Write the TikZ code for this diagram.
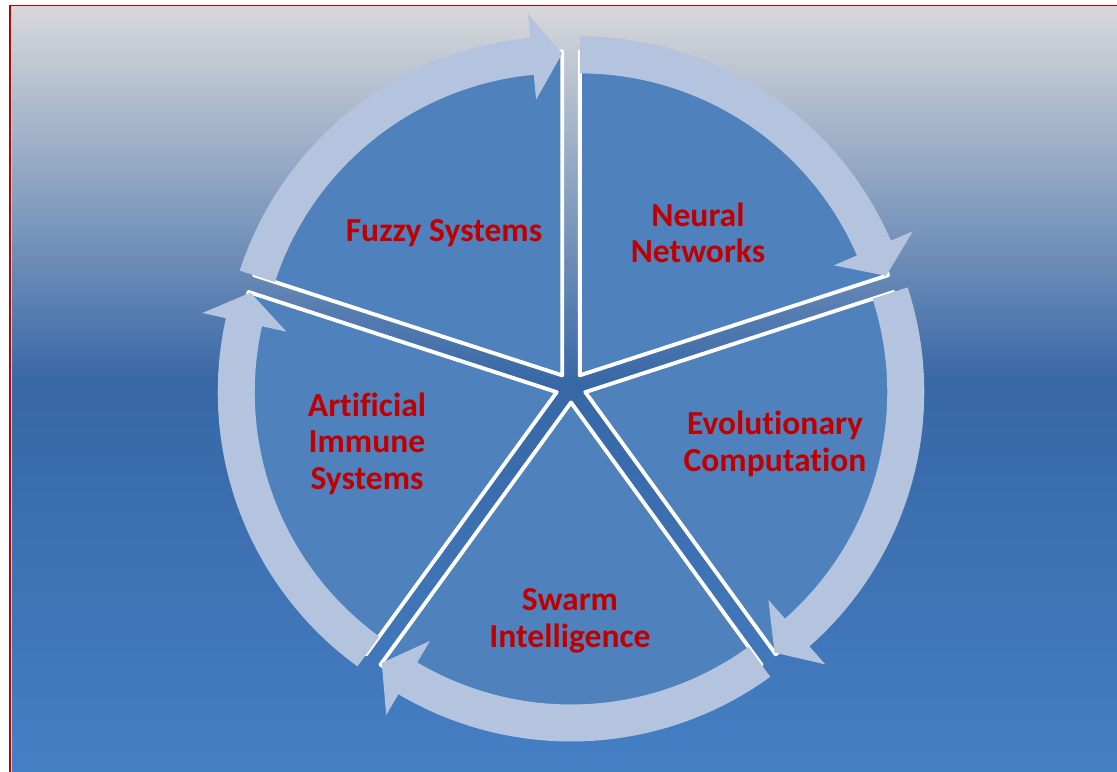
\documentclass[tikz,border=0pt]{standalone}
\usepackage{fontspec}
\setmainfont{Carlito}[RawFeature={-liga;-clig;-dlig}]
\usetikzlibrary{calc}
\definecolor{secblue}{RGB}{79,129,189}
\definecolor{arrowblue}{RGB}{180,196,222}
\definecolor{txtred}{RGB}{192,0,0}
\definecolor{framered}{RGB}{192,0,0}
\definecolor{bgtop}{RGB}{216,216,218}
\definecolor{bgmid}{RGB}{55,103,166}
\definecolor{bgbot}{RGB}{69,127,196}
\definecolor{innerpink}{RGB}{238,205,205}
\pgfdeclareverticalshading{bgshade}{100bp}{color(0bp)=(bgbot); color(25bp)=(bgbot); color(50.26bp)=(bgmid); color(75bp)=(bgtop); color(100bp)=(bgtop)}
\begin{document}
\begin{tikzpicture}[x=0.01cm,y=0.01cm,
  sector/.style={fill=secblue, draw=white, line width=1.1pt, line join=round},
  circarrow/.style={fill=arrowblue},
  seglabel/.style={text=txtred, font=\bfseries\fontsize{9.55}{10.4}\selectfont, align=center, inner sep=0pt}]
\useasboundingbox (0,0) rectangle (1117,772);
\fill[white] (0,0) rectangle (1117,772);
\shade[shading=bgshade] (11,0) rectangle (1117,766);
\draw[innerpink, line width=0.3pt] (11.8,0) -- (11.8,765.5);
\draw[framered, line width=0.6pt] (10.2,0) -- (10.2,767);
\draw[framered, line width=0.45pt] (9.2,766.3) -- (1117,766.3);
\coordinate (C) at (571,384.5);
% sectors
\foreach \a in {90,18,-54,-126,162}{
  \pgfmathsetmacro{\bis}{\a+36}
  \pgfmathsetmacro{\e}{\a+72}
  \coordinate (V) at ($(C)+(\bis:15)$);
  \draw[sector] (V) -- ($(V)+(\a:324)$) arc[start angle=\a, end angle=\e, radius=324] -- cycle;
}
% circular arrows
\foreach \a in {90,18,-54,-126,162}{
  \pgfmathsetmacro{\bis}{\a+36}
  \pgfmathsetmacro{\e}{\a+72}
  \pgfmathsetmacro{\h}{\a+5.4}
  \coordinate (V) at ($(C)+(\bis:15)$);
  \coordinate (T1) at ($(V)+(\e:302)$);
  \coordinate (H1) at ($(V)+(\h:277)$);
  \coordinate (HT) at ($(V)+(\a:322)$);
  \coordinate (H2) at ($(V)+(\h:363)$);
  \coordinate (H3) at ($(V)+(\h:339)$);
  \fill[circarrow] (T1) arc[start angle=\e, end angle=\h, radius=302] -- (H1) -- (HT) -- (H2) -- (H3) arc[start angle=\h, end angle=\e, radius=339] -- cycle;
}
\node[seglabel] (fuzzy) at (444,539) {Fuzzy Systems};
\node[seglabel] (neural) at (698,539) {Neural\\Networks};
\node[seglabel] (evo) at (775,328) {Evolutionary\\Computation};
\node[seglabel] (swarm) at (570,151) {Swarm\\Intelligence};
\node[seglabel] (ais) at (367,328.5) {Artificial\\Immune\\Systems};
\end{tikzpicture}
\end{document}
